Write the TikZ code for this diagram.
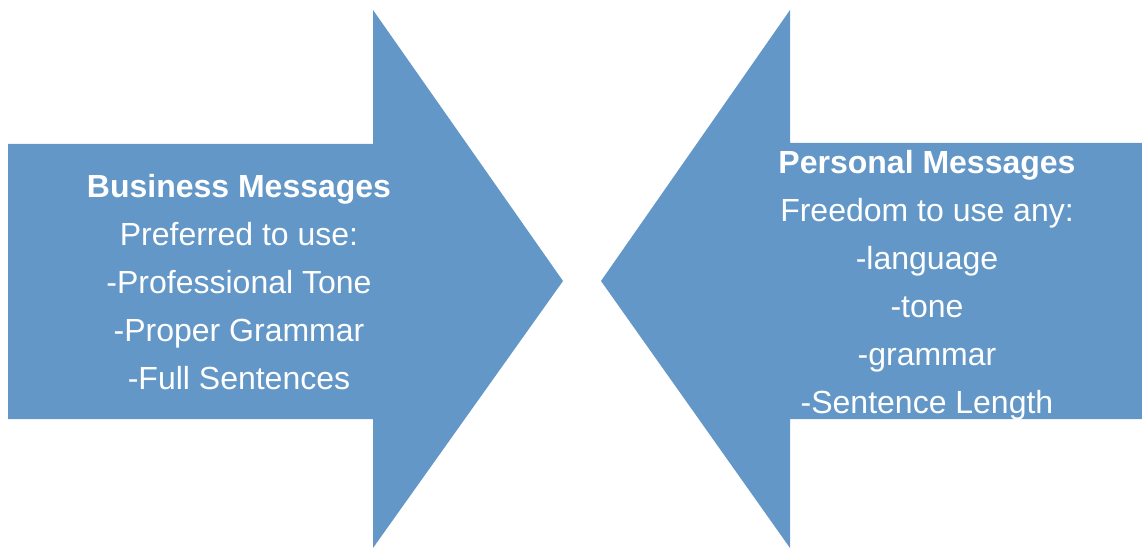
\documentclass[tikz,border=0pt]{standalone}
\usepackage{fontspec}
\setmainfont{Liberation Sans}
\usepackage{color}
\definecolor{arrowblue}{RGB}{98,151,199}

\begin{document}
\begin{tikzpicture}[line cap=round,line join=round,x=1pt,y=-1pt,
  msg/.style={text=white,align=center,font=\fontsize{32}{48}\selectfont}]
\useasboundingbox (0,0) rectangle (1142,548);
% left arrow, pointing right
\fill [arrowblue] (8,144)--(373,144)--(373,10)--(563,281)--(373,548)--(373,419)--(8,419)--cycle;
% right arrow, pointing left
\fill [arrowblue] (1142,143)--(790,143)--(790,10)--(601,281)--(790,548)--(790,419)--(1142,419)--cycle;
\node [msg] (business) at (239,282) {\textbf{Business Messages}\\Preferred to use:\\-Professional Tone\\-Proper Grammar\\-Full Sentences};
\node [msg] (personal) at (927,285) {\textbf{Personal Messages}\\Freedom to use any:\\-language\\-tone\\-grammar\\-Sentence Length};
\end{tikzpicture}
\end{document}
